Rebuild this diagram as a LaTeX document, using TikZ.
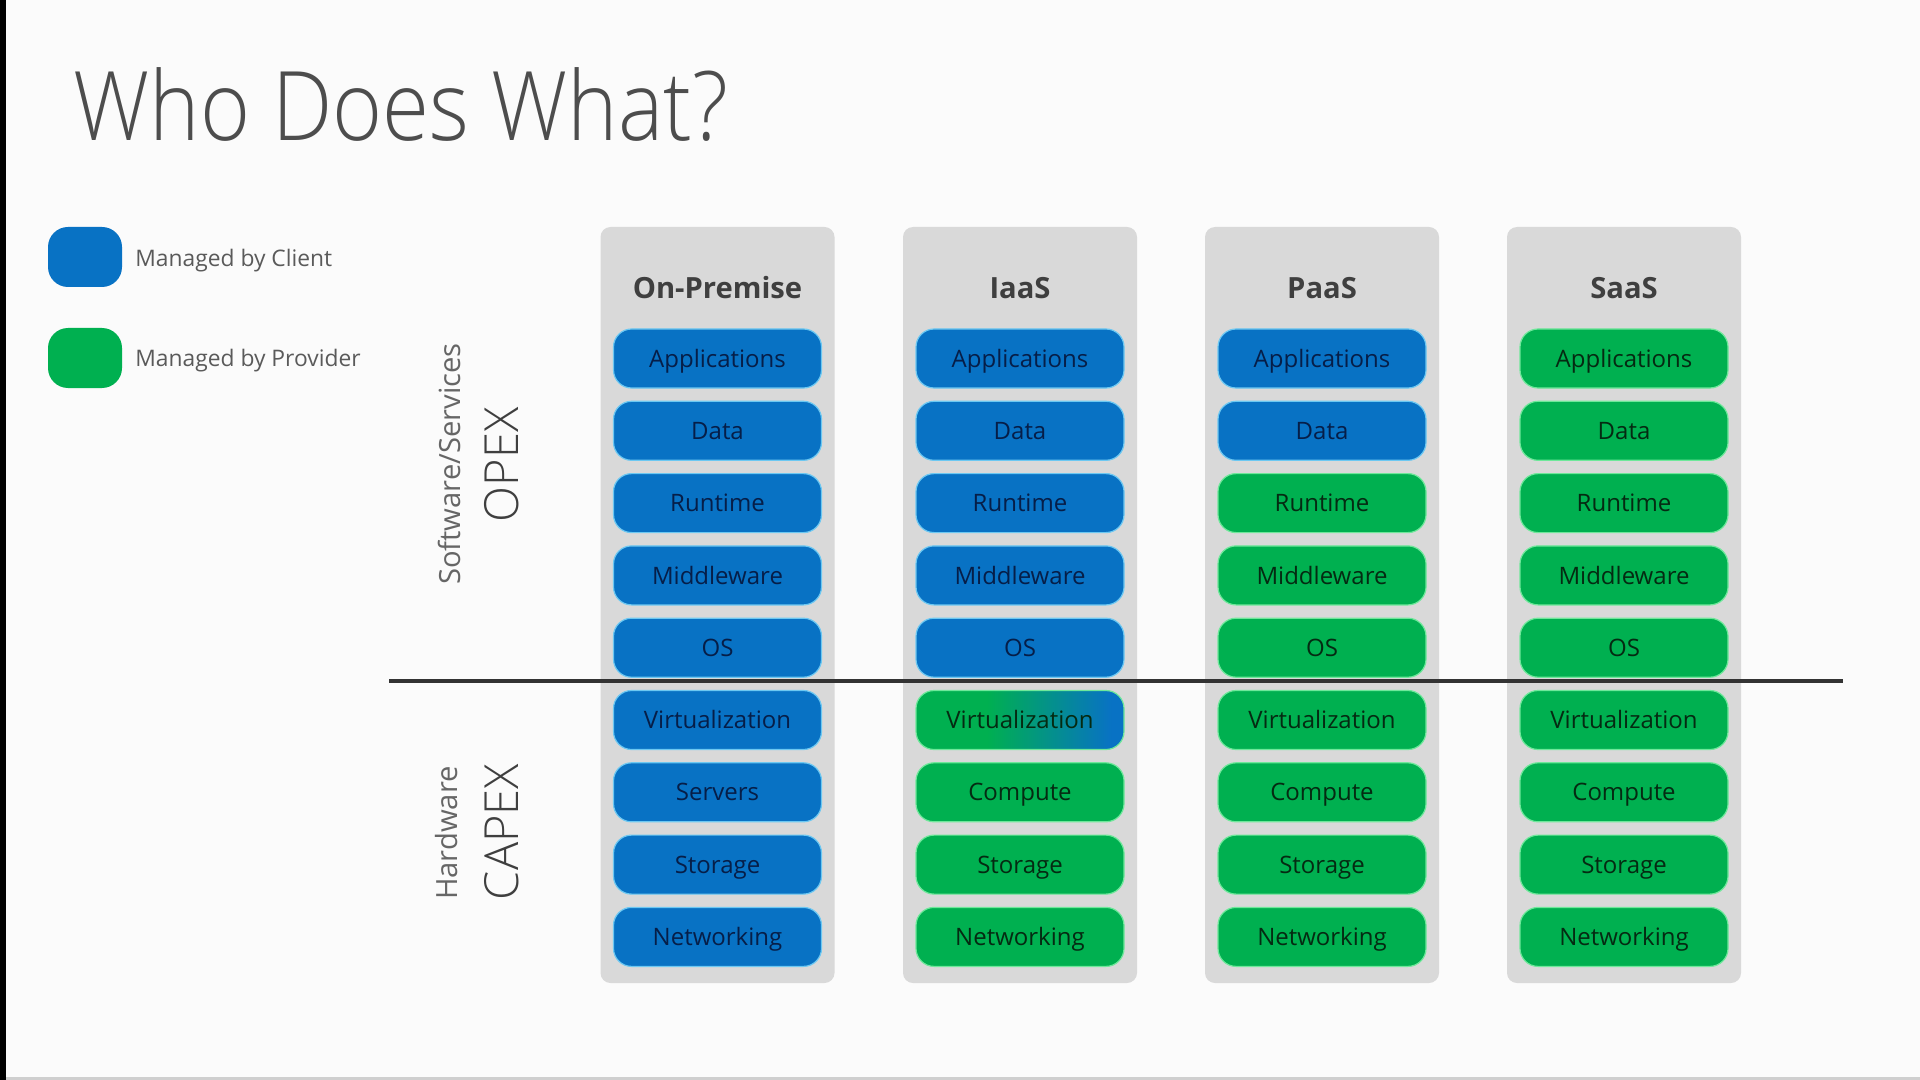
\documentclass[tikz,border=0pt]{standalone}
\usepackage{fontspec}
\setmainfont{Open Sans}
\IfFontExistsTF{Open Sans Light}
  {\newfontfamily\lightfont{Open Sans Light}\newfontfamily\titlefont{Open Sans Light}[FakeStretch=0.89]}
  {\newfontfamily\lightfont{Open Sans}\newfontfamily\titlefont{Open Sans}[FakeStretch=0.86]}

\definecolor{pagebg}{HTML}{FBFBFB}
\definecolor{panelgray}{HTML}{D9D9D9}
\definecolor{cblue}{HTML}{0872C4}
\definecolor{cblueedge}{HTML}{6CC8F2}
\definecolor{cbluetext}{HTML}{061E48}
\definecolor{pgreen}{HTML}{00B050}
\definecolor{pgreenedge}{HTML}{6EE89A}
\definecolor{pgreentext}{HTML}{052A12}
\definecolor{titlegray}{HTML}{4D4D4D}
\definecolor{headgray}{HTML}{3F3F3F}
\definecolor{labelgray}{HTML}{5A5A5A}
\definecolor{sidegray}{HTML}{666666}
\definecolor{divgray}{HTML}{333333}
\definecolor{footgray}{HTML}{CFCFCF}

% green on the left fading into blue on the right
\pgfdeclarehorizontalshading{virtshade}{100bp}{color(0bp)=(pgreen); color(42bp)=(pgreen);
  color(72bp)=(cblue); color(100bp)=(cblue)}

\tikzset{
  cell/.style={rounded corners=9pt, minimum width=104pt, minimum height=29.5pt,
    inner sep=0pt, line width=0.6pt, text height=8.6pt, text depth=0pt,
    font=\fontsize{12}{14}\selectfont},
  client/.style={cell, fill=cblue, draw=cblueedge, text=cbluetext},
  provider/.style={cell, fill=pgreen, draw=pgreenedge, text=pgreentext},
  mixed/.style={cell, shading=virtshade, draw=pgreenedge, text=pgreentext},
  panel/.style={rounded corners=5pt, fill=panelgray, minimum width=117pt,
    minimum height=378pt, inner sep=0pt},
  colhead/.style={font=\bfseries\fontsize{14.6}{17}\selectfont, text=headgray},
  legendkey/.style={rounded corners=10pt, minimum width=37pt, minimum height=30pt, inner sep=0pt},
  legendtext/.style={anchor=west, inner sep=0pt, text=labelgray, font=\fontsize{11.4}{13}\selectfont},
  sidesmall/.style={rotate=90, inner sep=0pt, text=sidegray, font=\fontsize{14.6}{16}\selectfont},
  sidebig/.style={rotate=90, inner sep=0pt, text=headgray, font=\lightfont\fontsize{23.5}{27}\selectfont},
}

\begin{document}
\begin{tikzpicture}[x=0.5pt, y=-0.5pt]
  % page
  \useasboundingbox (0,0) rectangle (1920,1080);
  \fill[pagebg] (0,0) rectangle (1920,1080);
  \fill[black] (0,0) rectangle (6,1080);
  \fill[footgray] (6,1077) rectangle (1920,1080);

  % title
  \node[anchor=base west, inner sep=0pt, text=titlegray,
        font=\titlefont\fontsize{48}{54}\selectfont] (title) at (73,141) {Who Does What?};

  % legend
  \node[legendkey, fill=cblue] (keyclient) at (85,257) {};
  \node[legendtext] (keyclienttext) at (135,261) {Managed by Client};
  \node[legendkey, fill=pgreen] (keyprov) at (85,358) {};
  \node[legendtext] (keyprovtext) at (135,361) {Managed by Provider};

  % side labels
  \node[sidesmall] (swlabel) at (449,464) {Software/Services};
  \node[sidebig] (opex) at (502,465) {OPEX};
  \node[sidesmall] (hwlabel) at (447,833) {Hardware};
  \node[sidebig] (capex) at (502,832) {CAPEX};

  % column panels
  \node[panel] (pOn) at (717.5,605) {};
  \node[panel] (pIaaS) at (1020,605) {};
  \node[panel] (pPaaS) at (1322,605) {};
  \node[panel] (pSaaS) at (1624,605) {};

  % column headings
  \node[colhead] (hOn) at (717.5,288) {On-Premise};
  \node[colhead] (hIaaS) at (1020,288) {IaaS};
  \node[colhead] (hPaaS) at (1322,288) {PaaS};
  \node[colhead] (hSaaS) at (1624,288) {SaaS};

  % stack cells
  \foreach \lbl/\sty [count=\i] in {Applications/client, Data/client, Runtime/client,
      Middleware/client, OS/client, Virtualization/client, Servers/client,
      Storage/client, Networking/client}
    \node[\sty] (on\i) at (717.5,{358.5+72.3*(\i-1)}) {\lbl};

  \foreach \lbl/\sty [count=\i] in {Applications/client, Data/client, Runtime/client,
      Middleware/client, OS/client, Virtualization/mixed, Compute/provider,
      Storage/provider, Networking/provider}
    \node[\sty] (iaas\i) at (1020,{358.5+72.3*(\i-1)}) {\lbl};

  \foreach \lbl/\sty [count=\i] in {Applications/client, Data/client, Runtime/provider,
      Middleware/provider, OS/provider, Virtualization/provider, Compute/provider,
      Storage/provider, Networking/provider}
    \node[\sty] (paas\i) at (1322,{358.5+72.3*(\i-1)}) {\lbl};

  \foreach \lbl/\sty [count=\i] in {Applications/provider, Data/provider, Runtime/provider,
      Middleware/provider, OS/provider, Virtualization/provider, Compute/provider,
      Storage/provider, Networking/provider}
    \node[\sty] (saas\i) at (1624,{358.5+72.3*(\i-1)}) {\lbl};

  % OPEX / CAPEX divider
  \coordinate (divL) at (389,681);
  \coordinate (divR) at (1843,681);
  \draw[divgray, line width=2pt] (divL) -- (divR);
\end{tikzpicture}
\end{document}
